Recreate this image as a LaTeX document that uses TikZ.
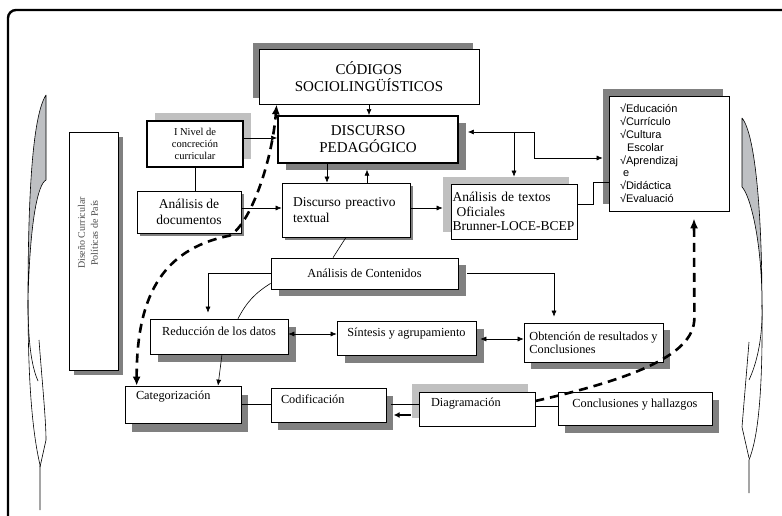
\documentclass[tikz,border=0pt]{standalone}
\usepackage{fontspec}
\setmainfont{Liberation Serif}
\newfontfamily\chkfont{Liberation Sans}
\usetikzlibrary{arrows.meta,shadows}
\definecolor{shdark}{RGB}{128,128,128}
\definecolor{shlight}{RGB}{192,192,192}
\definecolor{bracegray}{RGB}{190,192,195}
\tikzstyle{box}=[draw,fill=white,line width=0.7pt,inner sep=0pt,align=center,font={\fontsize{12.3}{14}\selectfont}]
\tikzstyle{link}=[draw,line width=0.6pt]
\tikzstyle{linkarrow}=[link,-{Latex[length=6pt,width=5pt]}]
\tikzstyle{dashlink}=[draw,line width=2.6pt,dash pattern=on 9pt off 6pt,-{Latex[length=10pt,width=8pt]}]
\tikzstyle{brace}=[draw,line width=0.6pt,fill=bracegray]
\tikzstyle{braceline}=[draw,line width=0.6pt]
\tikzset{shadowdark/.style 2 args={drop shadow={shadow xshift=#1,shadow yshift=#2,fill=shdark,opacity=1}},
  shadowlight/.style 2 args={drop shadow={shadow xshift=#1,shadow yshift=#2,fill=shlight,opacity=1}}}

\begin{document}
\begin{tikzpicture}[x=1pt,y=-1pt]
    \useasboundingbox (0,0) rectangle (782,516);
    % frame and the two side braces
    \draw[line width=2.4pt,rounded corners=8pt] (8,530) |- (800,10);
    \path[brace] (46,95) -- (46,180) .. controls (38,184) and (30,220) .. (28,300) .. controls (28,190) and (33,115) .. (46,95);
    \path[braceline] (28,300) .. controls (28,340) and (31,365) .. (38,381);
    \path[braceline] (28,300) .. controls (28,380) and (32,430) .. (40,465) -- (40,510);
    \path[braceline] (39,340) .. controls (42,380) and (46,420) .. (46,440) -- (40,467);
    \path[brace] (742,118) -- (742,187) .. controls (750,195) and (762,240) .. (762,305) .. controls (762,220) and (756,135) .. (742,118);
    \path[braceline] (762,305) .. controls (763,340) and (756,365) .. (749,380);
    \path[braceline] (762,305) .. controls (763,400) and (757,440) .. (749,460) -- (749,493);
    \path[braceline] (749,342) -- (742,427) -- (749,458);

    % the boxes
    \node[box,shadowdark={5pt}{-5pt},minimum width=49pt,minimum height=238pt] (diseno) at (93.5,251) {};
    \node[rotate=90,align=center,text=black!70,font={\fontsize{10}{13}\selectfont}] (disenotxt) at (88,233) {Diseño Curricular\\Políticas de País};
    \node[box,shadowdark={-6pt}{6pt},minimum width=220pt,minimum height=55pt,font={\fontsize{15}{17}\selectfont}] (codigos) at (369,76.5) {CÓDIGOS\\SOCIOLINGÜÍSTICOS};
    \node[box,line width=1.8pt,shadowdark={8pt}{-7pt},minimum width=180pt,minimum height=47pt,font={\fontsize{15}{17}\selectfont}] (discurso) at (368,139.5) {DISCURSO\\PEDAGÓGICO};
    \node[box,line width=1.4pt,shadowlight={8pt}{8pt},minimum width=96pt,minimum height=46pt,font={\fontsize{10.5}{12}\selectfont}] (inivel) at (195,144) {I Nivel de\\concreción\\curricular};
    \node[box,shadowdark={3pt}{-3pt},minimum width=104pt,minimum height=42pt,font={\fontsize{13.5}{16}\selectfont}] (analdoc) at (189,212) {Análisis de\\documentos};
    \node[box,shadowdark={3pt}{-3pt},text width=106pt,inner xsep=11pt,minimum height=54pt,align=left,text depth=15pt,font={\fontsize{13.5}{16}\selectfont}] (preact) at (346,210) {Discurso preactivo\\textual};
    \node[box,shadowlight={-8pt}{7pt},text width=123pt,inner xsep=1.5pt,minimum height=55pt,align=left,font={\fontsize{13.5}{14.5}\selectfont}] (textos) at (514,211.5) {Análisis de textos\\\hspace*{4pt}Oficiales\\\mbox{Brunner-LOCE-BCEP}};
    \node[box,shadowdark={-6pt}{7pt},text width=98pt,inner xsep=11pt,minimum height=115pt,align=left,font={\chkfont\fontsize{11}{12.8}\selectfont}] (checklist) at (669,153.5) {√Educación\\√Currículo\\√Cultura\\\hspace*{7pt}Escolar\\√Aprendizaj\\\hspace*{3pt}e\\√Didáctica\\√Evaluació};
    \node[box,shadowdark={8pt}{-7pt},minimum width=187pt,minimum height=31pt] (contenidos) at (364.5,273.5) {Análisis de Contenidos};
    \node[box,shadowdark={8pt}{-8pt},minimum width=138pt,minimum height=35pt,text depth=10pt] (reduccion) at (219,336.5) {Reducción de los datos};
    \node[box,shadowdark={8pt}{-8pt},minimum width=139pt,minimum height=34pt,text depth=11pt] (sintesis) at (406.5,338) {Síntesis y agrupamiento};
    \node[box,shadowdark={7pt}{-7pt},minimum width=139pt,minimum height=39pt,align=left,font={\fontsize{12.3}{13}\selectfont}] (obtencion) at (593.5,342.5) {Obtención de resultados y\\Conclusiones};
    \node[box,shadowdark={7pt}{-9pt},text width=94pt,inner xsep=11pt,minimum height=37pt,align=left,text depth=18pt] (categ) at (183,404.5) {Categorización};
    \node[box,shadowdark={7pt}{-8pt},text width=95pt,inner xsep=10pt,minimum height=34pt,align=left,text depth=11pt] (codif) at (328.5,405) {Codificación};
    \node[box,shadowlight={-7pt}{8pt},text width=92pt,inner xsep=12pt,minimum height=34pt,align=left,text depth=13pt] (diagram) at (477,409) {Diagramación};
    \node[box,shadowdark={7pt}{-8pt},minimum width=154pt,minimum height=33pt,text depth=10pt] (concl) at (635,408.5) {Conclusiones y hallazgos};

    % upper connectors
    \path[linkarrow] (codigos.south) -- (codigos.south |- discurso.north);
    \path[linkarrow] ([yshift=6pt]inivel.east) coordinate (a1) -- (a1 -| discurso.west);
    \path[link] (inivel.south) -- (inivel.south |- analdoc.north);
    \path[linkarrow] ([yshift=4pt]analdoc.east) coordinate (a2) -- (a2 -| preact.west);
    \path[linkarrow] ([xshift=-41pt]discurso.south) coordinate (a3) -- (a3 |- preact.north);
    \path[linkarrow] ([xshift=21pt]preact.north) -- ++(0,-13);
    \path[linkarrow,shorten >=8pt] ([yshift=2pt]preact.east) coordinate (a4) -- (a4 -| textos.west);
    \coordinate (pdr) at ([xshift=9pt,yshift=7.5pt]discurso.east);
    \path[link,{Latex[length=6pt,width=5pt]}-{Latex[length=6pt,width=5pt]}] (pdr) -- ++(66,0) |- ([xshift=-6pt,yshift=-4.5pt]checklist.west);
    \path[linkarrow,shorten >=7pt] (pdr -| textos.north) -- (textos.north);
    \path[link] ([yshift=7.5pt]textos.east) -- ++(16,0) |- ([yshift=-28.5pt]checklist.west);
    \path[link] (preact.south) -- ([xshift=-31.5pt]contenidos.north);

    % lower connectors
    \path[linkarrow,shorten >=6pt] (contenidos.west) -| ([xshift=-11pt]reduccion.north);
    \path[linkarrow,shorten >=6pt] ([xshift=9pt]contenidos.east) -| ([xshift=-39.5pt]obtencion.north);
    \path[link] ([yshift=6pt]contenidos.south west) to[bend right=15] ([xshift=19pt]reduccion.north);
    \path[link,{Latex[length=6pt,width=5pt]}-{Latex[length=6pt,width=5pt]}] ([yshift=2.5pt]reduccion.east) coordinate (a5) -- (a5 -| sintesis.west);
    \path[link,{Latex[length=6pt,width=5pt]}-{Latex[length=6pt,width=5pt]}] ([xshift=4pt,yshift=-1pt]sintesis.east) coordinate (a6) -- (a6 -| obtencion.west);
    \path[linkarrow] ([xshift=3pt]reduccion.south) -- ([xshift=35pt]categ.north);
    \path[link] (categ.east) -- (categ.east -| codif.west);
    \path[link] ([xshift=5pt,yshift=1pt]codif.east) coordinate (a7) -- (a7 -| diagram.west);
    \path[draw,line width=2pt,-{Latex[length=6pt,width=6pt]}] ([xshift=-8pt,yshift=-6pt]diagram.west) -- ++(-17,0);
    \path[link] ([yshift=3pt]diagram.east) coordinate (a8) -- (a8 -| concl.west);

    % dashed feedback arrows
    \coordinate (chk) at ([xshift=25pt,yshift=-7pt]checklist.south);
    \path[dashlink] ([yshift=8pt]diagram.east) .. controls +(115,-26) and +(0,32) .. ++(159,-83) -- (chk);
    \path[dashlink,{Latex[length=9pt,width=8pt]}-{Latex[length=10pt,width=8pt]}] ([xshift=12pt]categ.north west) .. controls +(0,-86) and +(-70,14) .. ++(93,-150) .. controls +(20,-11) and +(-5,60) .. ([xshift=18pt]codigos.south west);
\end{tikzpicture}
\end{document}
